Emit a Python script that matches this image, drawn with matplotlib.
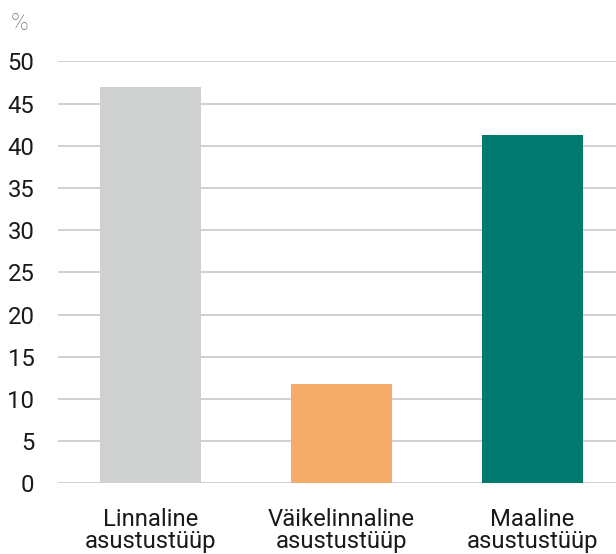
import matplotlib.pyplot as plt
import matplotlib

matplotlib.rcParams['font.family'] = ['Roboto', 'DejaVu Sans']

# andmed
categories = ['Linnaline\nasustustüüp', 'Väikelinnaline\nasustustüüp', 'Maaline\nasustustüüp']
values = [46.9, 11.8, 41.3]
colors = ['#d0d2d1', '#f5ac6b', '#00796f']
yticks = [0, 5, 10, 15, 20, 25, 30, 35, 40, 45, 50]

fig = plt.figure(figsize=(6.16, 5.54), dpi=100)
ax = fig.add_axes([58 / 616, 1 - 483.3 / 554, 1 - 58 / 616, (483.3 - 61.3) / 554])

x = range(len(categories))
ax.bar(x, values, width=0.53, color=colors, zorder=3)

ax.set_ylim(0, 50)
ax.set_xlim(-0.484, 2.437)
ax.set_yticks(yticks)
ax.set_xticks(list(x))
ax.set_xticklabels(categories, linespacing=0.95)

ax.grid(axis='y', color='#c8c8c8', linewidth=1.2, zorder=0)
for s in ax.spines.values():
    s.set_visible(False)

ax.tick_params(axis='y', length=0, pad=17, labelsize=17.2, labelcolor='#1a1a1a')
ax.tick_params(axis='x', length=0, pad=18, labelsize=17.2, labelcolor='#1a1a1a')

fig.text(11 / 616, 1 - 29.5 / 554, '%', fontsize=17, fontweight='light', color='#6e6e6e')

fig.savefig('out.png', dpi=100)
